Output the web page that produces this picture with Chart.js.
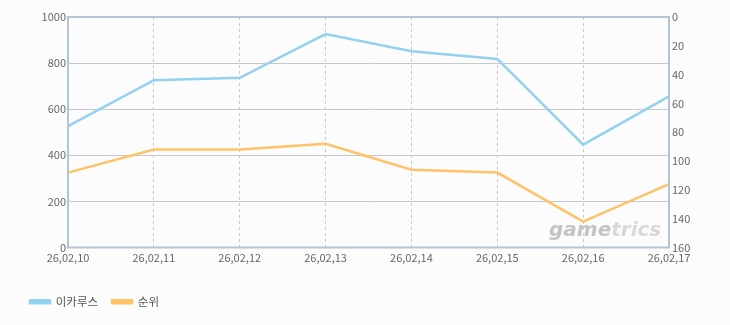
<!DOCTYPE html>
<html>
<head>
<meta charset="utf-8">
<script src="https://cdn.jsdelivr.net/npm/chart.js@4.4.1/dist/chart.umd.min.js"></script>
<style>
  html, body { margin: 0; padding: 0; background: #fcfcfc; }
  #wrap { width: 730px; height: 325px; position: relative; }
</style>
</head>
<body>
<div id="wrap"><canvas id="c" width="730" height="325"></canvas></div>
<script>
const categories = ["26,02,10", "26,02,11", "26,02,12", "26,02,13", "26,02,14", "26,02,15", "26,02,16", "26,02,17"];
const seriesNames = ["이카루스", "순위"];
const icarusValues = [527, 726, 736, 926, 851, 818, 446, 656];
const rankValues = [108, 92, 92, 88, 106, 108, 142, 116];
const leftTicks = [0, 200, 400, 600, 800, 1000];
const rightTicks = [0, 20, 40, 60, 80, 100, 120, 140, 160];

const FONT = "'Noto Sans CJK KR', 'DejaVu Sans', sans-serif";

const bgPlugin = {
  id: 'bg',
  beforeDraw(chart) {
    const ctx = chart.ctx;
    ctx.save();
    ctx.fillStyle = '#fcfcfc';
    ctx.fillRect(0, 0, chart.width, chart.height);
    ctx.restore();
  },
  beforeDatasetsDraw(chart) {
    const ctx = chart.ctx;
    const a = chart.chartArea;
    // watermark
    ctx.save();
    ctx.font = "italic bold 20px 'DejaVu Sans', sans-serif";
    ctx.textBaseline = 'alphabetic';
    ctx.fillStyle = '#c4c4c4';
    const x0 = a.right - 120, y0 = a.bottom - 12;
    ctx.fillText('game', x0, y0);
    const w = ctx.measureText('game').width;
    ctx.fillStyle = '#d8d8d8';
    ctx.fillText('trics', x0 + w, y0);
    ctx.restore();
  },
  afterDatasetsDraw(chart) {
    const ctx = chart.ctx;
    const a = chart.chartArea;
    ctx.save();
    ctx.strokeStyle = '#b4c5d8';
    ctx.lineWidth = 2;
    ctx.strokeRect(a.left, a.top, a.right - a.left, a.bottom - a.top);
    ctx.restore();
  }
};

new Chart(document.getElementById('c'), {
  type: 'line',
  data: {
    labels: categories,
    datasets: [
      { label: seriesNames[0], data: icarusValues, yAxisID: 'y', borderColor: '#93d1f1', backgroundColor: '#93d1f1', borderWidth: 2.5, pointRadius: 0, tension: 0 },
      { label: seriesNames[1], data: rankValues, yAxisID: 'y1', borderColor: '#ffc266', backgroundColor: '#ffc266', borderWidth: 2.5, pointRadius: 0, tension: 0 }
    ]
  },
  options: {
    responsive: false,
    animation: false,
    devicePixelRatio: 1,
    layout: { padding: { top: 17, left: 16, right: 0, bottom: 7.5 } },
    plugins: {
      legend: {
        position: 'bottom',
        align: 'start',
        labels: {
          boxWidth: 20, boxHeight: 3, padding: 14,
          color: '#555', font: { family: FONT, size: 11.5 }
        }
      },
      tooltip: { enabled: false }
    },
    scales: {
      x: {
        type: 'category',
        offset: false,
        grid: { color: '#c8c8c8', drawTicks: false, tickBorderDash: [3, 3] },
        border: { display: false, dash: [3, 3] },
        ticks: { color: '#666', font: { family: FONT, size: 11 }, padding: 4, maxRotation: 0, autoSkip: false },
        afterFit(s) { s.height = 34.5; }
      },
      y: {
        position: 'left',
        min: 0, max: 1000,
        afterBuildTicks(s) { s.ticks = leftTicks.map(v => ({ value: v })); },
        grid: { color: '#c8c8c8', drawTicks: false },
        border: { display: false },
        ticks: { color: '#666', font: { family: FONT, size: 11 }, padding: 2, callback: v => String(v) },
        afterFit(s) { s.width = 52; }
      },
      y1: {
        position: 'right',
        min: 0, max: 160, reverse: true,
        afterBuildTicks(s) { s.ticks = rightTicks.map(v => ({ value: v })); },
        grid: { display: false, drawTicks: false },
        border: { display: false },
        ticks: { color: '#666', font: { family: FONT, size: 11 }, padding: 3, callback: v => String(v) },
        afterFit(s) { s.width = 61; }
      }
    }
  },
  plugins: [bgPlugin]
});
</script>
</body>
</html>
